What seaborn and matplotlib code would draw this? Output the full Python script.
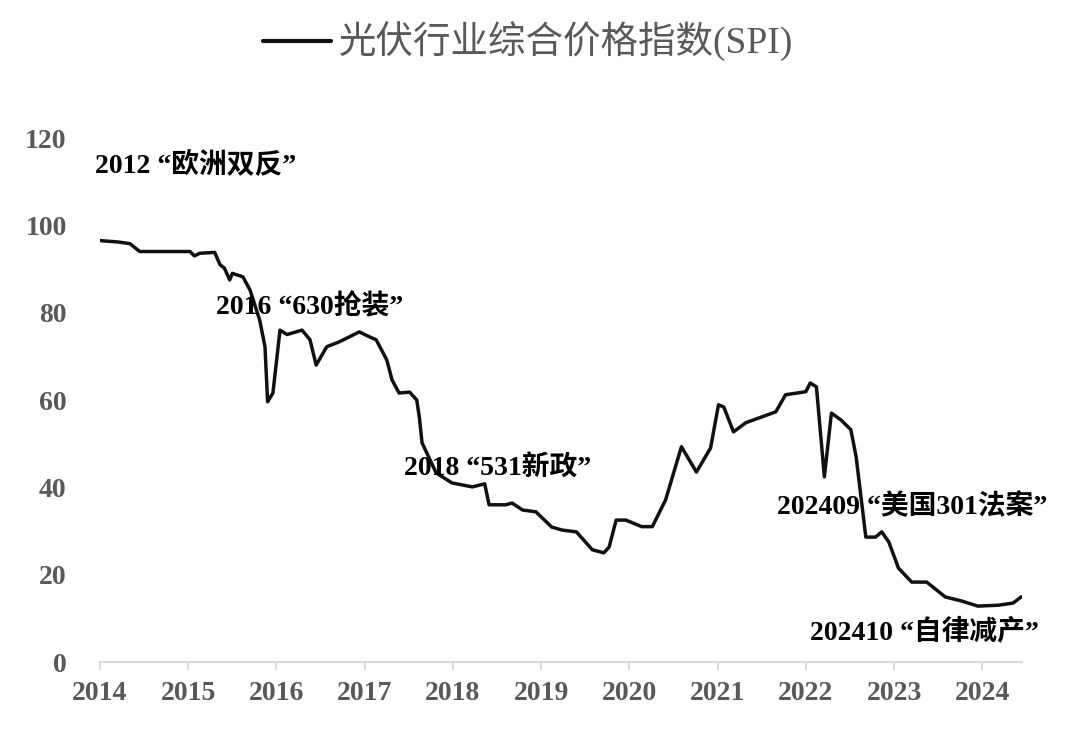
import matplotlib
matplotlib.use("Agg")
import matplotlib.pyplot as plt
import seaborn as sns
import pandas as pd
from matplotlib.lines import Line2D

# ---- data (decimal year, index value) ----
t = [2014.00, 2014.20, 2014.34, 2014.45, 2015.02, 2015.07, 2015.13, 2015.30, 2015.36, 2015.41,
     2015.47, 2015.50, 2015.62, 2015.70, 2015.81, 2015.87, 2015.90, 2015.96, 2016.04,
     2016.12, 2016.29, 2016.38, 2016.45, 2016.57, 2016.71, 2016.94, 2017.05, 2017.13,
     2017.25, 2017.31, 2017.39, 2017.51, 2017.59, 2017.62, 2017.65, 2017.81, 2017.99,
     2018.22, 2018.36, 2018.41, 2018.60, 2018.67, 2018.79, 2018.94, 2019.12, 2019.24,
     2019.40, 2019.58, 2019.71, 2019.77, 2019.85, 2019.96, 2020.14, 2020.26, 2020.41,
     2020.59, 2020.76, 2020.92, 2021.01, 2021.07, 2021.18, 2021.32, 2021.47, 2021.66,
     2021.77, 2022.00, 2022.05, 2022.12, 2022.21, 2022.29, 2022.40, 2022.51, 2022.57,
     2022.68, 2022.79, 2022.86, 2022.94, 2023.05, 2023.20, 2023.37, 2023.58, 2023.76,
     2023.95, 2024.18, 2024.35, 2024.44]
spi = [96.5, 96.2, 95.8, 94.0, 94.0, 93.0, 93.6, 93.8, 91.0, 90.2,
       87.5, 89.0, 88.2, 85.2, 78.3, 72.2, 59.6, 61.6, 76.0,
       75.0, 76.0, 73.8, 68.0, 72.2, 73.3, 75.6, 74.5, 73.8,
       69.2, 64.6, 61.6, 61.8, 60.0, 56.0, 50.2, 43.3, 41.0,
       40.1, 40.8, 36.0, 36.0, 36.4, 34.8, 34.4, 30.9, 30.2,
       29.8, 25.7, 25.0, 26.3, 32.5, 32.5, 31.0, 31.0, 37.1,
       49.3, 43.5, 49.0, 58.9, 58.4, 52.7, 54.8, 55.9, 57.3,
       61.2, 61.9, 63.9, 63.0, 42.4, 57.0, 55.4, 53.2, 47.0,
       28.6, 28.6, 29.8, 27.5, 21.5, 18.3, 18.3, 14.9, 14.0,
       12.8, 13.0, 13.5, 14.9]

years = list(range(2014, 2025))
yticks = [0, 20, 40, 60, 80, 100, 120]

ann_text = ["2012 \u201c欧洲双反\u201d", "2016 \u201c630抢装\u201d", "2018 \u201c531新政\u201d",
            "202409 \u201c美国301法案\u201d", "202410 \u201c自律减产\u201d"]
ann_x = [2013.94, 2015.32, 2017.45, 2021.67, 2022.05]
ann_y = [113.9, 81.3, 44.4, 35.5, 6.9]

series_name = "光伏行业综合价格指数(SPI)"

# ---- style ----
sns.set_theme(style="white")
plt.rcParams["font.family"] = ["Liberation Serif", "Noto Sans CJK SC", "DejaVu Sans"]

fig = plt.figure(figsize=(10.8, 7.35), dpi=100)
ax = fig.add_axes([100 / 1080, 1 - 662 / 735, (1022 - 100) / 1080, (662 - 138) / 735])

df = pd.DataFrame({"t": t, "spi": spi})
sns.lineplot(data=df, x="t", y="spi", sort=False, color="#111111", linewidth=2.5, ax=ax)

ax.set_xlim(2014, 2024.45)
ax.set_ylim(0, 120)
ax.set_xlabel("")
ax.set_ylabel("")
ax.set_xticks(years)
ax.set_xticklabels([str(y) for y in years])
ax.set_yticks(yticks)

for s in ["left", "right", "top"]:
    ax.spines[s].set_visible(False)
ax.spines["bottom"].set_color("#d9d9d9")
ax.spines["bottom"].set_linewidth(1.5)

ax.tick_params(axis="x", direction="out", length=6, width=1.5, color="#d9d9d9",
               pad=8, labelsize=20, labelcolor="#595959", bottom=True)
ax.tick_params(axis="y", length=0, pad=24, labelsize=20, labelcolor="#595959")
for lab in ax.get_xticklabels() + ax.get_yticklabels():
    lab.set_fontweight("bold")

for txt, x, y in zip(ann_text, ann_x, ann_y):
    ax.text(x, y, txt, ha="left", va="center", fontsize=20, fontweight="bold",
            color="#000000", clip_on=False)

handle = Line2D([], [], color="#111111", linewidth=3)
fig.legend([handle], [series_name], loc="center", bbox_to_anchor=(528 / 1080, 1 - 42 / 735),
           frameon=False, fontsize=27, handlelength=1.8, handletextpad=0.2,
           labelcolor="#595959")

fig.savefig("out.png", dpi=100)
